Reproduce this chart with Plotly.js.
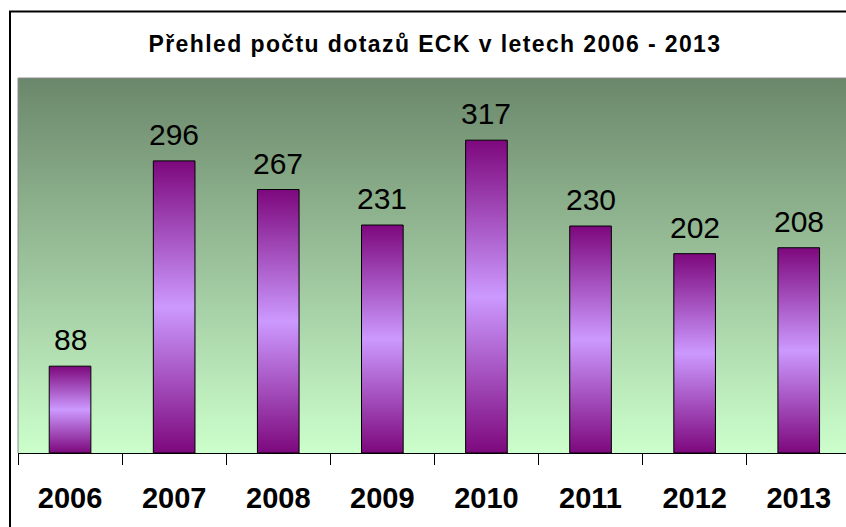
<!DOCTYPE html>
<html>
<head>
<meta charset="utf-8">
<script src="https://cdn.plot.ly/plotly-3.0.1.min.js"></script>
<style>
  html, body { margin: 0; padding: 0; background: #ffffff; }
  #chart { width: 846px; height: 527px; }
</style>
</head>
<body>
<div id="chart"></div>
<script>
const chartTitle = "Přehled počtu dotazů ECK v letech 2006 - 2013";
const years = ["2006", "2007", "2008", "2009", "2010", "2011", "2012", "2013"];
const queries = [88, 296, 267, 231, 317, 230, 202, 208];

const FONT = "Liberation Sans, Arial, sans-serif";

const trace = {
  type: "bar",
  x: years,
  y: queries,
  marker: { color: "#b070e0", line: { color: "#000000", width: 1 } },
  hoverinfo: "skip"
};

// category axis: annotation x given as the category's serial index
const annotations = years.map((yr, i) => ({
  x: i, y: queries[i], xref: "x", yref: "y",
  text: String(queries[i]),
  showarrow: false, xanchor: "center", yanchor: "bottom", yshift: 8,
  font: { family: FONT, size: 30, color: "#000000" }
}));

const layout = {
  width: 846, height: 527,
  margin: { l: 18, r: 0, t: 78, b: 74, pad: 0 },
  paper_bgcolor: "#ffffff",
  plot_bgcolor: "#a8d0a8",
  showlegend: false,
  bargap: 0.6,
  title: {
    text: chartTitle,
    font: { family: FONT, size: 23, weight: "bold", color: "#000000" },
    xref: "container", yref: "container",
    x: 435 / 846, xanchor: "center",
    y: 1 - 44 / 527, yanchor: "middle"
  },
  xaxis: {
    type: "category",
    range: [-0.5, 7.454],
    showline: true, linecolor: "#000000", linewidth: 1,
    ticks: "outside", tickson: "boundaries", ticklen: 11, tickcolor: "#000000", tickwidth: 1,
    ticklabelstandoff: 19,
    tickfont: { family: FONT, size: 29, weight: "bold", color: "#000000" },
    showgrid: false, zeroline: false, fixedrange: true
  },
  yaxis: {
    range: [0, 380],
    showticklabels: false, showgrid: false, zeroline: false, showline: false, ticks: "",
    fixedrange: true
  },
  annotations: annotations,
  shapes: [
    { type: "line", xref: "paper", yref: "paper", x0: 0, x1: 0, y0: 0, y1: 1,
      line: { color: "#8c8c8c", width: 1 }, layer: "above" },
    { type: "line", xref: "paper", yref: "paper", x0: 0, x1: 1, y0: 1, y1: 1,
      line: { color: "#8c8c8c", width: 1 }, layer: "above" },
    { type: "rect", xref: "paper", yref: "paper",
      xsizemode: "pixel", xanchor: 0, x0: -8, x1: 900,
      ysizemode: "pixel", yanchor: 1, y0: 66.5, y1: -600,
      line: { color: "#000000", width: 2 }, fillcolor: "rgba(0,0,0,0)", layer: "above" }
  ]
};

Plotly.newPlot("chart", [trace], layout, { staticPlot: true, displayModeBar: false }).then(gd => {
  const svgNS = "http://www.w3.org/2000/svg";
  const svg = gd.querySelector("svg.main-svg");
  let defs = svg.querySelector("defs");
  if (!defs) { defs = document.createElementNS(svgNS, "defs"); svg.insertBefore(defs, svg.firstChild); }

  function makeGrad(id, stops) {
    const g = document.createElementNS(svgNS, "linearGradient");
    g.setAttribute("id", id);
    g.setAttribute("x1", "0"); g.setAttribute("y1", "0");
    g.setAttribute("x2", "0"); g.setAttribute("y2", "1");
    stops.forEach(([off, col]) => {
      const s = document.createElementNS(svgNS, "stop");
      s.setAttribute("offset", off);
      s.setAttribute("stop-color", col);
      g.appendChild(s);
    });
    defs.appendChild(g);
  }
  makeGrad("bgGrad", [["0", "#6b876b"], ["1", "#ccffcc"]]);
  makeGrad("barGrad", [["0", "#7d087d"], ["0.5", "#cc99ff"], ["1", "#7d087d"]]);

  const bg = svg.querySelector(".bglayer rect.bg");
  if (bg) bg.style.fill = "url(#bgGrad)";
  svg.querySelectorAll(".barlayer .point path").forEach(p => { p.style.fill = "url(#barGrad)"; });

  const t = gd.querySelector(".g-gtitle text");
  if (t) t.style.letterSpacing = "1.4px";
});
</script>
</body>
</html>
